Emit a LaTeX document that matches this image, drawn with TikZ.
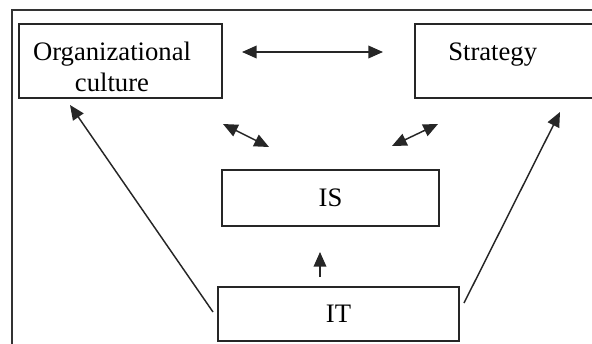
\documentclass[tikz,border=0pt]{standalone}
\usepackage{fontspec}
\setmainfont{Liberation Serif}
\usetikzlibrary{arrows.meta}

\tikzset{
  box/.style={draw=black!85, line width=1.3pt, rectangle, inner sep=0pt},
  lbl/.style={font=\fontsize{20}{23}\selectfont, inner sep=0pt},
  tip/.tip={Triangle[length=11pt, width=9.5pt]},
  oneway/.style={draw=black!85, line width=1.1pt, -tip},
  twoway/.style={draw=black!85, line width=1.1pt, tip-tip},
}

\begin{document}
\begin{tikzpicture}[x=0.75pt, y=-0.75pt]
\useasboundingbox (0,0) rectangle (592,343);
\clip (0,0) rectangle (592,343);
% outer frame, cut off at right and bottom
\draw[black!80, line width=1.5pt] (12,360) |- (620,10);
% boxes
\node[box, minimum width=152.25pt, minimum height=55.5pt] (org) at (120.5,61) {};
\node[lbl, align=center, anchor=north] (orgtext) at (112,42) {Organizational\\culture};
\node[box, anchor=west, minimum width=200pt, minimum height=55.5pt] (strat) at (414,61) {};
\node[lbl, anchor=base west] (strattext) at (448,60) {Strategy};
\node[box, lbl, minimum width=162.75pt, minimum height=42pt] (is) at (330.5,198) {IS};
\node[box, lbl, minimum width=180.75pt, minimum height=40.5pt] (it) at (338.5,314) {IT};
% arrow ends
\coordinate (hl) at (242,52);
\coordinate (hr) at (383,52);
\coordinate (dla) at (223,124);
\coordinate (dlb) at (269,147);
\coordinate (dra) at (392,146);
\coordinate (drb) at (438,124);
\coordinate (upa) at (320,277);
\coordinate (upb) at (320,252);
\coordinate (lla) at (213,312);
\coordinate (llb) at (70,105);
\coordinate (rla) at (464,303);
\coordinate (rlb) at (560,112);
% arrows
\draw[twoway] (hl) -- (hr);
\draw[twoway] (dla) -- (dlb);
\draw[twoway] (dra) -- (drb);
\draw[oneway] (upa) -- (upb);
\draw[oneway] (lla) -- (llb);
\draw[oneway] (rla) -- (rlb);
\end{tikzpicture}
\end{document}
